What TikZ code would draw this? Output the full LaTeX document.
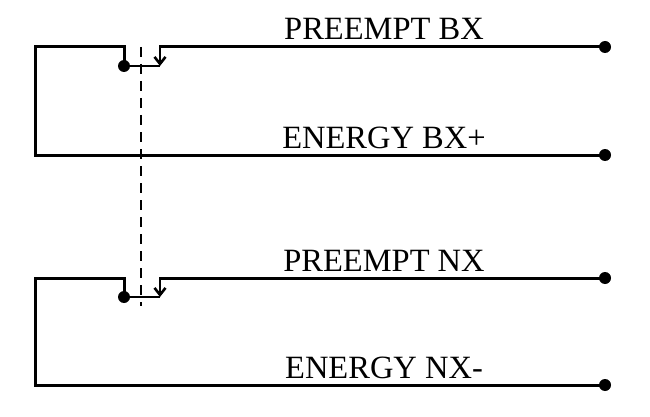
\documentclass[tikz,border=0pt]{standalone}
\usetikzlibrary{arrows.meta}
\usepackage{fontspec}
\setmainfont{Liberation Serif}
\begin{document}
\begin{tikzpicture}[x=1pt,y=-1pt,line width=3pt,
  wire/.style={draw,line cap=rect},
  term/.style={circle,fill,inner sep=0pt,minimum size=12pt},
  lbl/.style={font=\fontsize{32.5}{32.5}\selectfont,anchor=base}]
\useasboundingbox (0,0) rectangle (650,417);
\foreach \n/\y/\t/\e in {a/47/PREEMPT BX/155, b/278/PREEMPT NX/385}{
  \node[term] (\n1) at (605,\y) {};
  \node[term] (\n2) at (605,\e) {};
  \node[term] (\n d) at (124,\y+19) {};
  \coordinate (\n c) at (124,\y);
  \coordinate (\n l) at (35,\y);
  \coordinate (\n m) at (35,\e);
  \coordinate (\n s) at (160,\y);
  \coordinate (\n t) at (160,\y+19);
  \draw[wire] (\n d.center) -- (\n c) -- (\n l) -- (\n m) -- (\n2.center);
  \draw[wire] (\n1.center) -- (\n s);
  \draw[line width=2.6pt,-{Straight Barb[length=7pt,width=11pt]}] (\n s) -- (\n t);
  \draw[line width=2.6pt] (\n d.center) -- (\n t);
}
\node[lbl] at (384,40) {PREEMPT BX};
\node[lbl] at (384,148) {ENERGY BX+};
\node[lbl] at (384,271) {PREEMPT NX};
\node[lbl] at (384,378) {ENERGY NX-};
\coordinate (q1) at (141,47); \coordinate (q2) at (141,306);
\draw[line width=2.6pt,dash pattern=on 10pt off 7pt] (q1) -- (q2);
\end{tikzpicture}
\end{document}
